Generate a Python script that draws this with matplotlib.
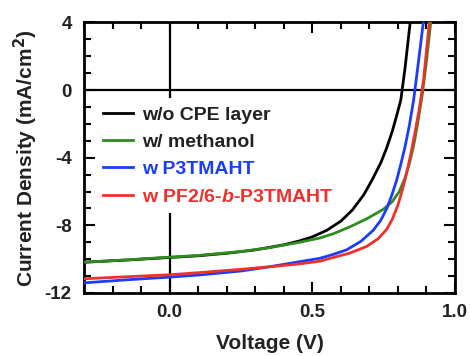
#!/usr/bin/env python3
"""
J-V curves of the solar cells with and without the CPE interlayer
"""
import matplotlib
matplotlib.use('Agg')
import matplotlib.pyplot as plt
from matplotlib.ticker import MultipleLocator, FormatStrFormatter

plt.rcParams['font.family'] = ['Liberation Sans', 'DejaVu Sans']
plt.rcParams['axes.unicode_minus'] = False
plt.rcParams['mathtext.fontset'] = 'custom'
plt.rcParams['mathtext.it'] = 'Liberation Sans:italic:bold'
plt.rcParams['mathtext.rm'] = 'Liberation Sans:bold'

#%% data (voltage in V, current density in mA/cm^2)
v_ref = [-0.3, -0.15, 0.0, 0.1, 0.2, 0.3, 0.4, 0.455, 0.5, 0.55, 0.6, 0.64,
         0.68, 0.71, 0.74, 0.76, 0.78, 0.795, 0.81, 0.825, 0.843]
j_ref = [-10.18, -10.05, -9.9, -9.8, -9.65, -9.45, -9.15, -8.92, -8.68, -8.3,
         -7.75, -7.1, -6.2, -5.3, -4.3, -3.45, -2.45, -1.55, -0.6, 1.3, 4.0]

v_meoh = [-0.3, -0.15, 0.0, 0.1, 0.25, 0.35, 0.455, 0.526, 0.573, 0.63, 0.69,
          0.749, 0.78, 0.805, 0.825, 0.84, 0.855, 0.87, 0.886, 0.9, 0.915]
j_meoh = [-10.18, -10.04, -9.88, -9.78, -9.55, -9.32, -9.0, -8.75, -8.5, -8.1,
          -7.62, -7.05, -6.6, -6.0, -5.2, -4.35, -3.3, -1.9, -0.2, 1.7, 4.0]

v_p3 = [-0.3, -0.15, 0.0, 0.1, 0.25, 0.35, 0.455, 0.526, 0.573, 0.62, 0.67,
        0.713, 0.74, 0.761, 0.78, 0.796, 0.81, 0.825, 0.84, 0.855, 0.87, 0.889]
j_p3 = [-11.4, -11.22, -11.06, -10.94, -10.7, -10.45, -10.15, -9.95, -9.72,
        -9.45, -8.95, -8.3, -7.7, -7.0, -6.15, -5.3, -4.4, -3.35, -2.1, -0.6, 1.4, 4.0]

v_pf = [-0.3, -0.15, 0.0, 0.1, 0.25, 0.35, 0.455, 0.526, 0.573, 0.63, 0.69,
        0.73, 0.76, 0.78, 0.8, 0.815, 0.83, 0.845, 0.86, 0.875, 0.89, 0.91]
j_pf = [-11.16, -11.04, -10.92, -10.8, -10.6, -10.45, -10.28, -10.12, -9.9,
        -9.65, -9.25, -8.8, -8.25, -7.65, -6.8, -5.95, -4.95, -3.8, -2.5, -1.1, 0.6, 4.0]

labels = ['w/o CPE layer', 'w/ methanol', 'w P3TMAHT',
          r'w PF2/6-$\mathit{b}$-P3TMAHT']
colors = ['black', '#2e8b1e', '#1a3cff', '#f0302a']
textcolors = ['#222222', '#222222', '#1a3cff', '#f0302a']

#%% plot
fg = plt.figure(figsize=(4.70, 3.56), dpi=100)
ax = fg.add_axes([0.179, 0.177, 0.789, 0.760])

ax.axhline(0, color='black', lw=1.6, zorder=1)
ax.axvline(0, color='black', lw=1.6, zorder=1)

for v, j, lab, c in zip([v_ref, v_meoh, v_p3, v_pf], [j_ref, j_meoh, j_p3, j_pf],
                        labels, colors):
    ax.plot(v, j, color=c, lw=2.0, label=lab, zorder=3)

ax.set_xlim(-0.3, 1.0)
ax.set_ylim(-12, 4)
ax.xaxis.set_major_locator(MultipleLocator(0.5))
ax.xaxis.set_minor_locator(MultipleLocator(0.1))
ax.yaxis.set_major_locator(MultipleLocator(4))
ax.yaxis.set_minor_locator(MultipleLocator(1))
ax.xaxis.set_major_formatter(FormatStrFormatter('%.1f'))
ax.yaxis.set_major_formatter(FormatStrFormatter('%d'))

ax.tick_params(which='both', direction='in', top=True, right=True, width=1.5)
ax.tick_params(which='major', length=8, labelsize=13.5)
ax.tick_params(axis='x', which='major', pad=8)
ax.tick_params(axis='y', which='major', pad=9)
ax.tick_params(which='minor', length=5)
for t in ax.get_xticklabels() + ax.get_yticklabels():
    t.set_fontweight('bold')
    t.set_color('#222222')
for s in ax.spines.values():
    s.set_linewidth(2.0)

ax.set_xlabel('Voltage (V)', fontsize=15, fontweight='bold', color='#222222',
              labelpad=9)
ax.set_ylabel('Current Density (mA/cm$^\\mathbf{2}$)', fontsize=15,
              fontweight='bold', color='#222222', labelpad=3)

leg = ax.legend(loc='upper left', bbox_to_anchor=(0.03, 0.72), borderaxespad=0,
                frameon=True, facecolor='white', edgecolor='none', framealpha=1,
                fancybox=False, fontsize=14, handlelength=1.55,
                handletextpad=0.45, labelspacing=0.5, borderpad=0.4)
leg.set_zorder(2)
for t, c in zip(leg.get_texts(), textcolors):
    t.set_color(c)
    t.set_fontweight('bold')

fg.savefig('out.png', dpi=100)
